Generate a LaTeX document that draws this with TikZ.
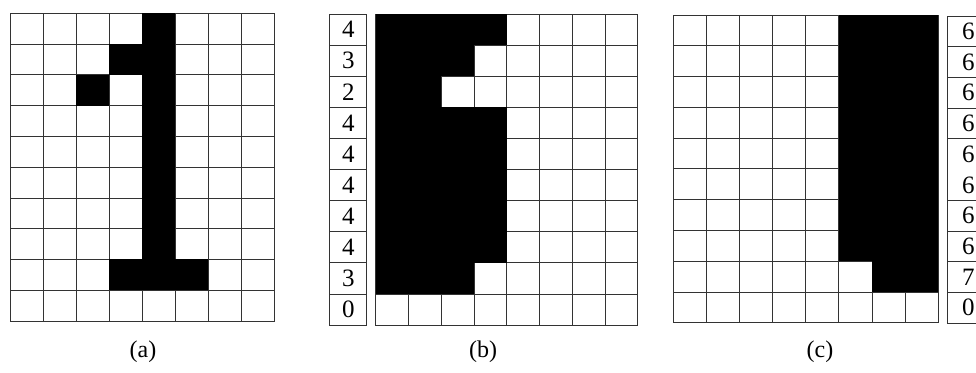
\documentclass[tikz,border=0pt]{standalone}
\usepackage{fontspec}
\setmainfont{Liberation Serif}
\begin{document}
\begin{tikzpicture}[x=1pt,y=1pt,
  cell/.style={draw=black!80, line width=0.8pt, fill=white},
  ink/.style={fill=black},
  lbl/.style={font=\fontsize{25}{25}\selectfont, inner sep=0pt},
  captext/.style={font=\fontsize{24}{24}\selectfont, inner sep=0pt}]
\useasboundingbox[fill=white] (0,0) rectangle (976,-372);

% ---- grid (a)
\begin{scope}[shift={(10pt,-13.3pt)}, x=33.04pt, y=-30.77pt]
  \foreach \c in {0,...,7} \foreach \r in {0,...,9} \draw[cell] (\c,\r) rectangle ++(1,1);
  \fill[ink] (4,0) rectangle (5,9);
  \fill[ink] (3,1) rectangle (4,2);
  \fill[ink] (2,2) rectangle (3,3);
  \fill[ink] (3,8) rectangle (6,9);
\end{scope}

% ---- labels (b)
\begin{scope}[shift={(329.3pt,-14pt)}, x=36.7pt, y=-31.1pt]
  \foreach \r/\v in {0/4,1/3,2/2,3/4,4/4,5/4,6/4,7/4,8/3,9/0}{
    \draw[cell] (0,\r) rectangle ++(1,1);
    \node[lbl] (lb\r) at (0.52,\r+0.5) {\v};
  }
\end{scope}

% ---- grid (b)
\begin{scope}[shift={(375.7pt,-14pt)}, x=32.75pt, y=-31.1pt]
  \foreach \c in {0,...,7} \foreach \r in {0,...,9} \draw[cell] (\c,\r) rectangle ++(1,1);
  \fill[ink] (0,0) rectangle (4,1);
  \fill[ink] (0,1) rectangle (3,2);
  \fill[ink] (0,2) rectangle (2,3);
  \fill[ink] (0,3) rectangle (4,8);
  \fill[ink] (0,8) rectangle (3,9);
\end{scope}

% ---- grid (c)
\begin{scope}[shift={(673.3pt,-15pt)}, x=33.1pt, y=-30.77pt]
  \foreach \c in {0,...,7} \foreach \r in {0,...,9} \draw[cell] (\c,\r) rectangle ++(1,1);
  \fill[ink] (5,0) rectangle (8,8);
  \fill[ink] (6,8) rectangle (8,9);
\end{scope}

% ---- labels (c)
\begin{scope}[shift={(947.7pt,-16pt)}, x=36.7pt, y=-30.7pt]
  \draw[cell] (0,0) rectangle (1,10);
  \foreach \r in {1,2,3,4,6,7,8,9} \draw[draw=black!80, line width=0.8pt] (0,\r) -- (1,\r);
  \foreach \r/\v in {0/6,1/6,2/6,3/6,4/6,5/6,6/6,7/6,8/7,9/0}{
    \node[lbl] (lc\r) at (0.56,\r+0.5) {\v};
  }
\end{scope}

% ---- captions
\node[captext] (capa) at (143,-352) {(a)};
\node[captext] (capb) at (483,-352) {(b)};
\node[captext] (capc) at (820,-352) {(c)};
\end{tikzpicture}
\end{document}
